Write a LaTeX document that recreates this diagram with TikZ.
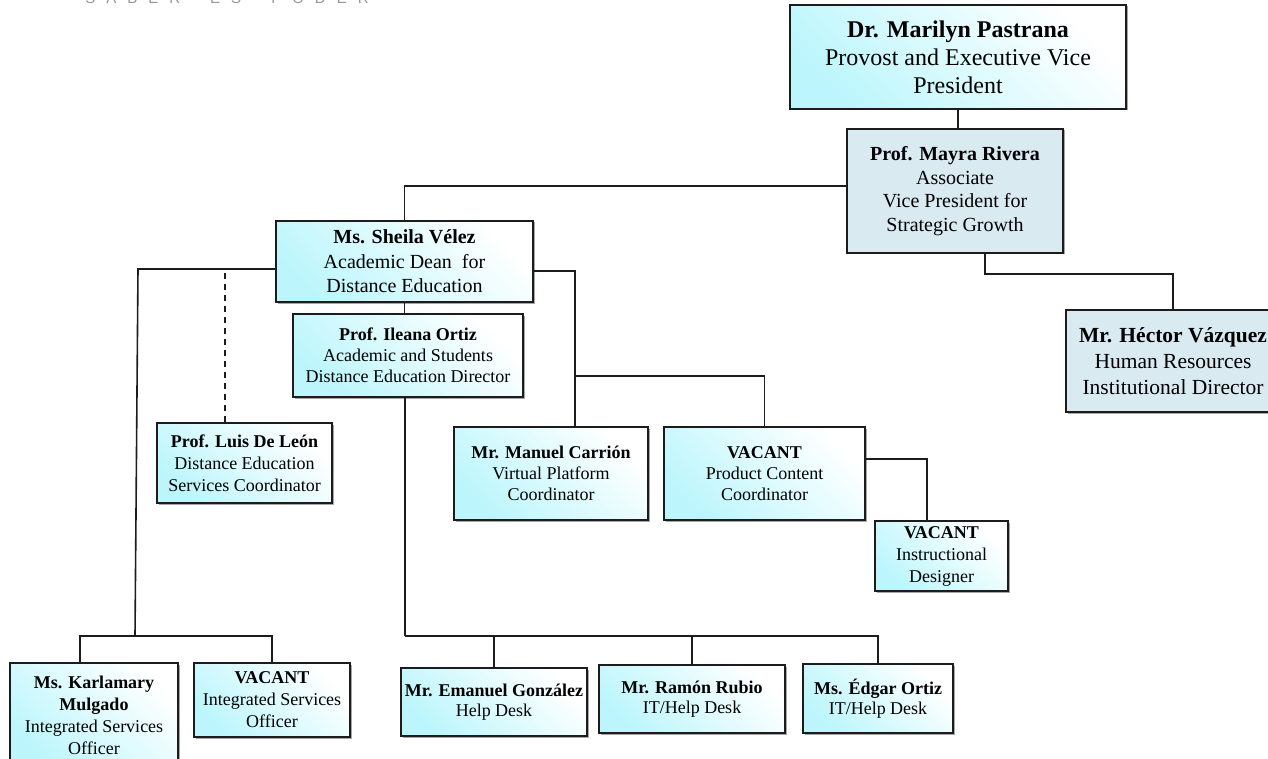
\documentclass[tikz,border=0pt]{standalone}
\usepackage{fontspec}
\setmainfont{Liberation Serif}
\newfontfamily\mottofont{Liberation Sans}
\usetikzlibrary{shadows}

\definecolor{boxcyan}{RGB}{188,246,252}
\definecolor{boxgrey}{RGB}{218,234,241}
\definecolor{linegrey}{RGB}{28,28,28}
\definecolor{mottogrey}{RGB}{150,150,150}

\begin{document}
\begin{tikzpicture}[thick,x=1pt,y=-1pt,
	box/.style={draw=linegrey,line width=1.6pt,align=center,inner sep=2pt,
		drop shadow={shadow xshift=1.5pt,shadow yshift=-1.5pt,fill=black!50,opacity=.7}},
	cyanbox/.style={box,top color=white,bottom color=boxcyan,shading angle=-45},
	greybox/.style={box,fill=boxgrey}]
\def\lsp{\hspace{11pt}}
\def\wsp{\hspace{30pt}}

\useasboundingbox (0,0) rectangle (1268,759);

\coordinate (ltop) at (138,269);
\coordinate (lbus) at (135,636);
\coordinate (hdbus) at (405,636);
\coordinate (vbus) at (575,376);

\node[anchor=base west,inner sep=0pt,text=mottogrey,
	font=\mottofont\fontsize{15}{15}\selectfont] (motto) at (85,4)
	{S\lsp A\lsp B\lsp E\lsp R\wsp E\lsp S\wsp P\lsp O\lsp D\lsp E\lsp R};

\node[cyanbox,minimum width=336pt,minimum height=104pt,
	font=\fontsize{24}{28}\selectfont] (pastrana) at (958,57)
	{\textbf{Dr. Marilyn Pastrana}\\Provost and Executive Vice\\President};
\node[greybox,minimum width=216pt,minimum height=124pt,
	font=\fontsize{20}{23.5}\selectfont] (rivera) at (955,191)
	{\textbf{Prof. Mayra Rivera}\\Associate\\Vice President for\\Strategic Growth};
\node[greybox,minimum width=214pt,minimum height=102pt,
	font=\fontsize{21.5}{26}\selectfont] (hector) at (1173,361)
	{\textbf{Mr. Héctor Vázquez}\\Human Resources\\Institutional Director};

\node[cyanbox,minimum width=257pt,minimum height=81pt,
	font=\fontsize{20}{24.5}\selectfont] (velez) at (404.5,261.5)
	{\textbf{Ms. Sheila Vélez}\\Academic Dean\ \ for\\Distance Education};
\node[cyanbox,minimum width=230pt,minimum height=83pt,
	font=\fontsize{18}{21}\selectfont] (ortiz) at (408,355.5)
	{\textbf{Prof. Ileana Ortiz}\\Academic and Students\\Distance Education Director};
\node[cyanbox,minimum width=175pt,minimum height=80pt,
	font=\fontsize{18}{22}\selectfont] (leon) at (244.5,463)
	{\textbf{Prof. Luis De León}\\Distance Education\\Services Coordinator};

\node[cyanbox,minimum width=194pt,minimum height=93pt,
	font=\fontsize{18}{21}\selectfont] (manuel) at (551,473.5)
	{\textbf{Mr. Manuel Carrión}\\Virtual Platform\\Coordinator};
\node[cyanbox,minimum width=201pt,minimum height=93pt,
	font=\fontsize{18}{21}\selectfont] (product) at (764.5,473.5)
	{\textbf{VACANT}\\Product Content\\Coordinator};
\node[cyanbox,minimum width=133pt,minimum height=70pt,
	font=\fontsize{18}{22}\selectfont] (designer) at (941.5,556)
	{\textbf{VACANT}\\Instructional\\Designer};

\node[cyanbox,minimum width=168pt,minimum height=105pt,
	font=\fontsize{18}{22}\selectfont] (karlamary) at (94,715.5)
	{\textbf{Ms. Karlamary}\\\textbf{Mulgado}\\Integrated Services\\Officer};
\node[cyanbox,minimum width=156pt,minimum height=74pt,
	font=\fontsize{18}{22}\selectfont] (isofficer) at (272,700)
	{\textbf{VACANT}\\Integrated Services\\Officer};

\node[cyanbox,minimum width=186pt,minimum height=68pt,
	font=\fontsize{18}{20.5}\selectfont] (emanuel) at (494,702)
	{\textbf{Mr. Emanuel González}\\Help Desk};
\node[cyanbox,minimum width=186pt,minimum height=68pt,
	font=\fontsize{18}{20.5}\selectfont] (ramon) at (692,699)
	{\textbf{Mr. Ramón Rubio}\\IT/Help Desk};
\node[cyanbox,minimum width=150pt,minimum height=69pt,
	font=\fontsize{18}{20.5}\selectfont] (edgar) at (878,698.5)
	{\textbf{Ms. Édgar Ortiz}\\IT/Help Desk};

\begin{scope}[line width=1.6pt]
\color{linegrey}
\draw (pastrana.south) -- (pastrana.south |- rivera.north);
\draw ([yshift=5pt]rivera.west) -| (velez.north);
\draw ([xshift=30pt]rivera.south) -- ++(0,20) -| (hector.north);

\draw (velez.south) -- (velez.south |- ortiz.north);
\draw ([yshift=-7.5pt]velez.west) -- (ltop) -- (lbus);
\draw (lbus) -| ([xshift=-14pt]karlamary.north);
\draw (lbus) -| (isofficer.north);
\draw[dash pattern=on 6pt off 5pt]
	([xshift=-19.5pt]leon.north) -- ([xshift=-19.5pt]leon.north |- ltop);

\draw (ortiz.south -| hdbus) -- (hdbus);
\foreach \n in {emanuel,ramon,edgar}{
	\draw (hdbus) -| (\n.north);
}

\draw ([yshift=-9.5pt]velez.east) -| (vbus |- manuel.north);
\draw (vbus) -| (product.north);
\draw ([yshift=14.5pt]product.east) -| ([xshift=-14.5pt]designer.north);
\end{scope}

\end{tikzpicture}
\end{document}
